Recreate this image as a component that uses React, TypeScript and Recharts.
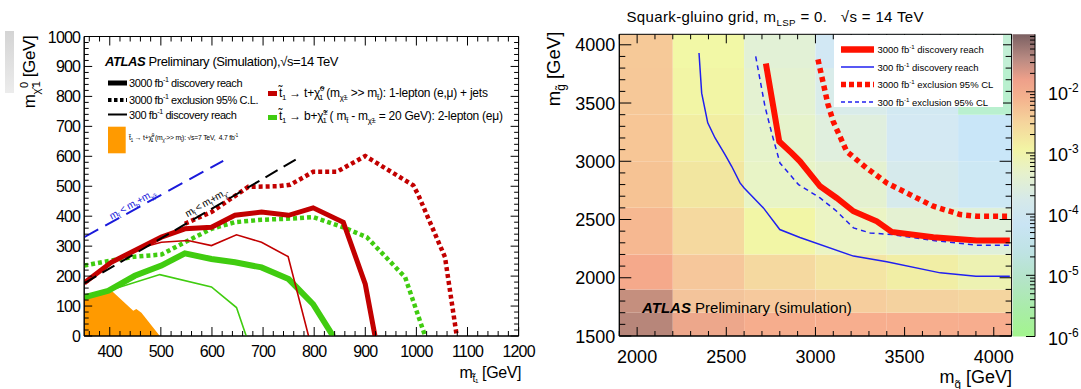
import React from "react"
import { ComposedChart, Line, Area, XAxis, YAxis, ReferenceArea } from "recharts"

const SANS = '"Liberation Sans", Arial, Helvetica, sans-serif'

// ---- left panel: stop pair reach, [m_stop, m_chi] in GeV ----
const redDisc3000 = [[350, 177], [403, 246], [501, 330], [547, 358], [599, 363], [645, 403], [697, 414], [750, 403], [798, 428], [857, 380], [900, 173], [919, 0]]
const redDisc300 = [[350, 177], [403, 246], [450, 290], [501, 313], [553, 319], [599, 302], [648, 338], [697, 313], [749, 265], [789, 0]]
const redExcl3000 = [[547, 375], [599, 414], [671, 498], [729, 500], [753, 505], [798, 548], [844, 548], [900, 601], [994, 503], [1004, 470], [1056, 263], [1079, 0]]
const greenDisc3000 = [[350, 129], [397, 151], [449, 201], [501, 235], [547, 276], [599, 257], [645, 246], [697, 229], [750, 190], [798, 106], [837, 0]]
const greenDisc300 = [[350, 129], [397, 151], [498, 205], [599, 164], [648, 95], [667, 0]]
const greenExcl3000 = [[350, 235], [403, 252], [449, 265], [501, 272], [547, 313], [599, 358], [645, 380], [697, 388], [753, 392], [798, 397], [857, 363], [903, 330], [978, 196], [1017, 0]]
const excluded7TeV = [[350, 129], [400, 157], [446, 84], [452, 90], [462, 78], [498, 0]]
const kinBLine = [[350, 330], [622, 585]]
const kinTLine = [[350, 176], [772, 597]]

const stopXLabels = [400, 500, 600, 700, 800, 900, 1000, 1100, 1200]
const stopYLabels = [0, 100, 200, 300, 400, 500, 600, 700, 800, 900, 1000]

// ---- right panel: squark-gluino grid, [m_squark, m_gluino] in GeV ----
const redDiscSg = [[2722, 3840], [2797, 3170], [2867, 3070], [2913, 3000], [3026, 2785], [3119, 2685], [3213, 2571], [3344, 2485], [3428, 2394], [3661, 2348], [3904, 2320], [4090, 2320]]
const blueDiscSg = [[2347, 3930], [2362, 3585], [2396, 3330], [2437, 3200], [2493, 3057], [2530, 2957], [2577, 2814], [2600, 2770], [2708, 2600], [2800, 2414], [2913, 2345], [3213, 2186], [3400, 2137], [3700, 2042], [3900, 2014], [4090, 2014]]
const redExclSg = [[3014, 3875], [3070, 3490], [3100, 3340], [3175, 3085], [3287, 2942], [3400, 2814], [3530, 2714], [3661, 2614], [3811, 2543], [3904, 2528], [4090, 2528]]
const blueExclSg = [[2665, 3900], [2717, 3470], [2755, 3240], [2801, 2985], [2905, 2800], [3026, 2685], [3119, 2571], [3213, 2428], [3306, 2385], [3428, 2371], [3661, 2320], [3904, 2280], [4090, 2280]]

const squarkEdges = [1900, 2200, 2600, 3000, 3400, 3800, 4100]
const gluinoEdges = [1500, 1700, 1900, 2200, 2600, 3000, 3400, 3800, 4100]
// cross-section colour per cell, rows from low gluino mass upwards
const cellColors = [
  ["#b7867a", "#eda78b", "#f6ad8d", "#f7ae8e", "#f7ae8e", "#f7ad8e"],
  ["#c58f7e", "#f3c49b", "#f6c99d", "#f6cd9d", "#f4d29f", "#f4d59f"],
  ["#f5a98b", "#f6c79b", "#f5d9a0", "#f4e5a4", "#f1eea5", "#edf2b2"],
  ["#f6b891", "#f5d99f", "#f2f6a6", "#ebf4c4", "#e4f1d2", "#dff0da"],
  ["#f6c394", "#f2e6a0", "#e8f4c6", "#e4f1d0", "#d6eaec", "#cde8f4"],
  ["#f7c696", "#f2eea2", "#e6f3cb", "#e0efde", "#d4e9f3", "#c9e6f8"],
  ["#f6c898", "#f2f5a5", "#e4f2d2", "#d9ecea", "#d2e9f2", "#b9f0cf"],
  ["#f6c998", "#f2f8a6", "#e2f1d6", "#d2e8f4", "#cfe9f0", "#c2efd5"],
]

const sgXLabels = [2000, 2500, 3000, 3500, 4000]
const sgYLabels = [1500, 2000, 2500, 3000, 3500, 4000]

// colour scale
const cbMajors = [1e-6, 1e-5, 1e-4, 1e-3, 1e-2]
const cbStops = [
  [0, "#a3f58e"], [0.09, "#a9eca8"], [0.19, "#b4e4c8"], [0.28, "#bfe3e4"], [0.37, "#c9e4f4"],
  [0.45, "#d5e9ea"], [0.54, "#e6f1cc"], [0.62, "#f2f4a4"], [0.71, "#f5d49c"], [0.79, "#f4b28e"],
  [0.85, "#eea08a"], [0.92, "#b88a82"], [1, "#7b6062"],
] as const

const pts = (a: number[][]) => a.map(([x, y]) => ({ x, y }))
const range = (a: number, b: number, s: number) => {
  const r: number[] = []
  for (let v = a; v <= b; v += s) r.push(v)
  return r
}
const cbTicks = cbMajors.flatMap((m) => [m, ...[2, 3, 4, 5, 6, 7, 8, 9].map((k) => k * m)]).filter((v) => v <= 0.087)

type TickOpts = { plot: number; major: number[]; long: number; short: number; size: number; ls: number; gap: number }

function bottomTick(o: TickOpts) {
  return (p: any) => {
    const v = p.payload.value
    const big = o.major.includes(v)
    const l = big ? o.long : o.short
    return (
      <g>
        <line x1={p.x} x2={p.x} y1={p.y} y2={p.y - l} stroke="#000" />
        <line x1={p.x} x2={p.x} y1={p.y - o.plot} y2={p.y - o.plot + l} stroke="#000" />
        {big && (
          <text x={p.x} y={p.y + o.gap} textAnchor="middle" fontSize={o.size} letterSpacing={o.ls} fontFamily={SANS} fill="#000">
            {v}
          </text>
        )}
      </g>
    )
  }
}

function leftTick(o: TickOpts) {
  return (p: any) => {
    const v = p.payload.value
    const big = o.major.includes(v)
    const l = big ? o.long : o.short
    return (
      <g>
        <line x1={p.x} x2={p.x + l} y1={p.y} y2={p.y} stroke="#000" />
        <line x1={p.x + o.plot - l} x2={p.x + o.plot} y1={p.y} y2={p.y} stroke="#000" />
        {big && (
          <text x={p.x - 4} y={p.y + o.gap} textAnchor="end" fontSize={o.size} letterSpacing={o.ls} fontFamily={SANS} fill="#000">
            {v}
          </text>
        )}
      </g>
    )
  }
}

const cbTick = (p: any) => {
  const v = p.payload.value
  const lg = Math.log10(v)
  const e = Math.round(lg)
  const big = Math.abs(lg - e) < 1e-6
  return (
    <g>
      <line x1={p.x - (big ? 9 : 5)} x2={p.x} y1={p.y} y2={p.y} stroke="#000" />
      {big && (
        <text x={p.x + 13} y={p.y + 8} fontSize={18} fontFamily={SANS} fill="#000">
          10<tspan fontSize={12} dy={-8}>{String(e)}</tspan>
        </text>
      )}
    </g>
  )
}

type Seg = [string, ("sup" | "sub")?, number?]

function Rich({ x, y, size, segs, ...rest }: { x: number; y: number; size: number; segs: Seg[]; [k: string]: any }) {
  let cur = 0
  return (
    <text x={x} y={y} fontSize={size} fontFamily={SANS} style={{ whiteSpace: "pre" }} {...rest}>
      {segs.map(([t, k, dx], i) => {
        const off = k === "sup" ? -0.42 * size : k === "sub" ? 0.28 * size : 0
        const dy = off - cur
        cur = off
        return (
          <tspan key={i} dy={dy} dx={dx ?? 0} fontSize={k ? size * 0.65 : size}>
            {t}
          </tspan>
        )
      })}
    </text>
  )
}

const T = "t\u0303"
const CHI = "\u03c7\u0303"

function StopPanel() {
  return (
    <ComposedChart width={540} height={389} margin={{ top: 36.5, right: 21.4, bottom: 0, left: 0 }}>
      <XAxis
        type="number"
        dataKey="x"
        domain={[350, 1200]}
        allowDataOverflow
        ticks={range(360, 1200, 20)}
        interval={0}
        height={53}
        tickSize={0}
        tickMargin={0}
        tickLine={false}
        axisLine={{ stroke: "#000" }}
        tick={bottomTick({ plot: 299.5, major: stopXLabels, long: 9, short: 5, size: 16, ls: -0.8, gap: 21 })}
      />
      <YAxis
        type="number"
        domain={[0, 1000]}
        allowDataOverflow
        ticks={range(0, 1000, 20)}
        interval={0}
        width={84.2}
        tickSize={0}
        tickMargin={0}
        tickLine={false}
        axisLine={{ stroke: "#000" }}
        tick={leftTick({ plot: 434.4, major: stopYLabels, long: 8, short: 4.5, size: 16, ls: -0.8, gap: 6 })}
      />
      <Area data={pts(excluded7TeV)} dataKey="y" type="linear" fill="#ff9a00" fillOpacity={1} stroke="none" isAnimationActive={false} />
      <Line data={pts(greenExcl3000)} dataKey="y" stroke="#40cc10" strokeWidth={4.5} strokeDasharray="4 3" dot={false} isAnimationActive={false} />
      <Line data={pts(redExcl3000)} dataKey="y" stroke="#c20000" strokeWidth={4.5} strokeDasharray="4 3" dot={false} isAnimationActive={false} />
      <Line data={pts(greenDisc3000)} dataKey="y" stroke="#40cc10" strokeWidth={6} dot={false} isAnimationActive={false} />
      <Line data={pts(greenDisc300)} dataKey="y" stroke="#40cc10" strokeWidth={1.6} dot={false} isAnimationActive={false} />
      <Line data={pts(redDisc3000)} dataKey="y" stroke="#c20000" strokeWidth={5} dot={false} isAnimationActive={false} />
      <Line data={pts(redDisc300)} dataKey="y" stroke="#c20000" strokeWidth={1.6} dot={false} isAnimationActive={false} />
      <Line data={pts(kinTLine)} dataKey="y" stroke="#000" strokeWidth={2} strokeDasharray="14 7" dot={false} isAnimationActive={false} />
      <Line data={pts(kinBLine)} dataKey="y" stroke="#1a1adb" strokeWidth={2} strokeDasharray="16 8" dot={false} isAnimationActive={false} />
      <ReferenceArea x1={350} x2={1200} y1={0} y2={1000} fill="none" stroke="#000" ifOverflow="visible" />
    </ComposedChart>
  )
}

function SquarkGluinoPanel() {
  const cells: React.ReactNode[] = []
  cellColors.forEach((row, r) =>
    row.forEach((c, k) =>
      cells.push(
        <ReferenceArea
          key={`c${r}-${k}`}
          x1={squarkEdges[k]}
          x2={squarkEdges[k + 1]}
          y1={gluinoEdges[r]}
          y2={gluinoEdges[r + 1]}
          fill={c}
          fillOpacity={1}
          stroke="none"
          ifOverflow="hidden"
        />
      )
    )
  )
  return (
    <ComposedChart width={480} height={389} margin={{ top: 34.3, right: 8.4, bottom: 0, left: 0 }}>
      {cells}
      <XAxis
        type="number"
        dataKey="x"
        domain={[1900, 4100]}
        allowDataOverflow
        ticks={range(1900, 4100, 100)}
        interval={0}
        height={53}
        tickSize={0}
        tickMargin={0}
        tickLine={false}
        axisLine={{ stroke: "#000" }}
        tick={bottomTick({ plot: 301.7, major: sgXLabels, long: 9, short: 5, size: 18, ls: 0, gap: 27 })}
      />
      <YAxis
        type="number"
        domain={[1500, 4090]}
        allowDataOverflow
        ticks={range(1500, 4000, 100)}
        interval={0}
        width={79.3}
        tickSize={0}
        tickMargin={0}
        tickLine={false}
        axisLine={{ stroke: "#000" }}
        tick={leftTick({ plot: 392.3, major: sgYLabels, long: 12, short: 6, size: 18, ls: 0, gap: 6.5 })}
      />
      <Line data={pts(blueDiscSg)} dataKey="y" stroke="#2020f0" strokeWidth={1.5} dot={false} isAnimationActive={false} />
      <Line data={pts(blueExclSg)} dataKey="y" stroke="#2020f0" strokeWidth={1.5} strokeDasharray="5 4" dot={false} isAnimationActive={false} />
      <Line data={pts(redExclSg)} dataKey="y" stroke="#ff1100" strokeWidth={5.5} strokeDasharray="5 4" dot={false} isAnimationActive={false} />
      <Line data={pts(redDiscSg)} dataKey="y" stroke="#ff1100" strokeWidth={6} dot={false} isAnimationActive={false} />
      <ReferenceArea x1={1900} x2={4100} y1={1500} y2={4090} fill="none" stroke="#000" ifOverflow="visible" />
    </ComposedChart>
  )
}

function ColourBar() {
  return (
    <ComposedChart width={81} height={389} margin={{ top: 34.3, right: 0, bottom: 52.5, left: 12.7 }}>
      <defs>
        <linearGradient id="cbGrad" x1="0" y1="1" x2="0" y2="0">
          {cbStops.map(([o, c]) => (
            <stop key={o} offset={o} stopColor={c} />
          ))}
        </linearGradient>
      </defs>
      <XAxis type="number" dataKey="x" domain={[0, 1]} hide />
      <YAxis
        orientation="right"
        type="number"
        scale="log"
        domain={[1e-6, 0.087]}
        allowDataOverflow
        ticks={cbTicks}
        interval={0}
        width={46}
        tickSize={0}
        tickMargin={0}
        tickLine={false}
        axisLine={{ stroke: "#000" }}
        tick={cbTick}
      />
      <ReferenceArea x1={0} x2={1} y1={1e-6} y2={0.087} fill="url(#cbGrad)" fillOpacity={1} stroke="none" ifOverflow="visible" />
      <Line data={[{ x: 0, y: 1e-6 }, { x: 1, y: 1e-6 }]} dataKey="y" stroke="none" dot={false} isAnimationActive={false} />
    </ComposedChart>
  )
}

function Overlay() {
  const L = { fill: "#000", letterSpacing: -0.4 }
  const R = { fill: "#000" }
  return (
    <svg width={1081} height={389} style={{ position: "absolute", left: 0, top: 0, pointerEvents: "none" }}>
      {/* left panel */}
      <Rich x={0} y={0} size={17} {...L} textAnchor="middle" transform="translate(35,72) rotate(-90)"
        segs={[["m"], [CHI, "sub"], ["0", "sup", 1], ["1", "sub", -5], [" [GeV]"]]} />
      <text x={105} y={66} fontSize={13} fontFamily={SANS} {...L}>
        <tspan fontWeight="bold" fontStyle="italic">ATLAS</tspan>
        {" Preliminary (Simulation),\u221as=14 TeV"}
      </text>
      <line x1={108} x2={127} y1={83} y2={83} stroke="#000" strokeWidth={5} />
      <line x1={108} x2={127} y1={100} y2={100} stroke="#000" strokeWidth={4} strokeDasharray="3.5 2.5" />
      <line x1={108} x2={127} y1={114.5} y2={114.5} stroke="#000" strokeWidth={2} />
      <Rich x={129} y={87} size={11} {...L} segs={[["3000 fb"], ["-1", "sup"], [" discovery reach"]]} />
      <Rich x={129} y={104} size={11} {...L} segs={[["3000 fb"], ["-1", "sup"], [" exclusion 95% C.L."]]} />
      <Rich x={129} y={118.5} size={11} {...L} segs={[["300 fb"], ["-1", "sup"], [" discovery reach"]]} />
      <rect x={108} y={126.7} width={17.7} height={26.6} fill="#ff9a00" />
      <Rich x={129} y={140} size={6.8} {...L} letterSpacing={-0.2}
        segs={[[T], ["1", "sub"], [" \u2192 t+" + CHI], ["0", "sup"], ["1", "sub", -3], [" (m"], [CHI, "sub"], [" >> m"], [T, "sub"], ["): \u221as=7 TeV,  4.7 fb"], ["-1", "sup"]]} />
      <rect x={268} y={91} width={9} height={5} fill="#c20000" />
      <Rich x={279} y={96.5} size={12} {...L} letterSpacing={-0.25}
        segs={[[T], ["1", "sub"], [" \u2192 t+" + CHI], ["0", "sup"], ["1", "sub", -5], [" (m"], [CHI + "\u00b1", "sub"], [" >> m"], [T, "sub"], ["): 1-lepton (e,\u03bc) + jets"]]} />
      <rect x={268} y={115} width={9} height={5} fill="#40cc10" />
      <Rich x={279} y={120} size={12} {...L} letterSpacing={-0.25}
        segs={[[T], ["1", "sub"], [" \u2192 b+" + CHI], ["\u00b1", "sup"], ["1", "sub", -5], [" ( m"], [T, "sub"], [" - m"], [CHI + "\u00b1", "sub"], [" = 20 GeV): 2-lepton (e\u03bc)"]]} />
      <Rich x={0} y={0} size={10} fill="#1a1adb" letterSpacing={-0.3} textAnchor="middle" transform="translate(134,207) rotate(-29.5)"
        segs={[["m"], [T, "sub"], [" < m"], ["b", "sub"], ["+m"], [CHI + "\u00b1", "sub"]]} />
      <Rich x={0} y={0} size={10} {...L} textAnchor="middle" transform="translate(207,206) rotate(-30)"
        segs={[["m"], [T, "sub"], [" < m"], ["t", "sub"], ["+m"], [CHI, "sub"]]} />
      <Rich x={521} y={378} size={16} {...L} textAnchor="end" segs={[["m"], [T + "\u2081", "sub"], [" [GeV]"]]} />

      {/* right panel */}
      <Rich x={626.5} y={22} size={15} {...R} letterSpacing={0.35} segs={[["Squark-gluino grid, m"], ["LSP", "sub"], [" = 0.   \u221as = 14 TeV"]]} />
      <Rich x={0} y={0} size={18.5} {...R} textAnchor="middle" transform="translate(560,69) rotate(-90)"
        segs={[["m"], ["g\u0303", "sub"], [" [GeV]"]]} />
      <rect x={834} y={35} width={169} height={72} fill="#fff" />
      <line x1={841} x2={874} y1={49.5} y2={49.5} stroke="#ff1100" strokeWidth={6.5} />
      <line x1={841} x2={874} y1={67} y2={67} stroke="#2020f0" strokeWidth={1.3} />
      <line x1={841} x2={874} y1={84.5} y2={84.5} stroke="#ff1100" strokeWidth={5.5} strokeDasharray="5 3" />
      <line x1={841} x2={874} y1={102} y2={102} stroke="#2020f0" strokeWidth={1.3} strokeDasharray="4 3" />
      <Rich x={877.5} y={53} size={9.5} {...R} segs={[["3000 fb"], ["-1", "sup"], [" discovery reach"]]} />
      <Rich x={877.5} y={70.5} size={9.5} {...R} segs={[["300 fb"], ["-1", "sup"], [" discovery reach"]]} />
      <Rich x={877.5} y={88} size={9.5} {...R} segs={[["3000 fb"], ["-1", "sup"], [" exclusion 95% CL"]]} />
      <Rich x={877.5} y={105.5} size={9.5} {...R} segs={[["300 fb"], ["-1", "sup"], [" exclusion 95% CL"]]} />
      <text x={642} y={313} fontSize={15} fontFamily={SANS} {...R}>
        <tspan fontWeight="bold" fontStyle="italic">ATLAS</tspan>
        {" Preliminary (simulation)"}
      </text>
      <Rich x={1012} y={383} size={18} {...R} textAnchor="end" segs={[["m"], ["q\u0303", "sub"], [" [GeV]"]]} />
    </svg>
  )
}

export default function App() {
  return (
    <div style={{ position: "absolute", left: 0, top: 0, width: 1081, height: 389, overflow: "hidden", background: "#fff", fontFamily: SANS }}>
      <div style={{ position: "absolute", left: 5, top: 31, width: 9, height: 62, background: "linear-gradient(#d4d4d4, #ececec)" }} />
      <div style={{ position: "absolute", left: 0, top: 0 }}>
        <StopPanel />
      </div>
      <div style={{ position: "absolute", left: 540, top: 0 }}>
        <SquarkGluinoPanel />
      </div>
      <div style={{ position: "absolute", left: 1000, top: 0 }}>
        <ColourBar />
      </div>
      <Overlay />
    </div>
  )
}
